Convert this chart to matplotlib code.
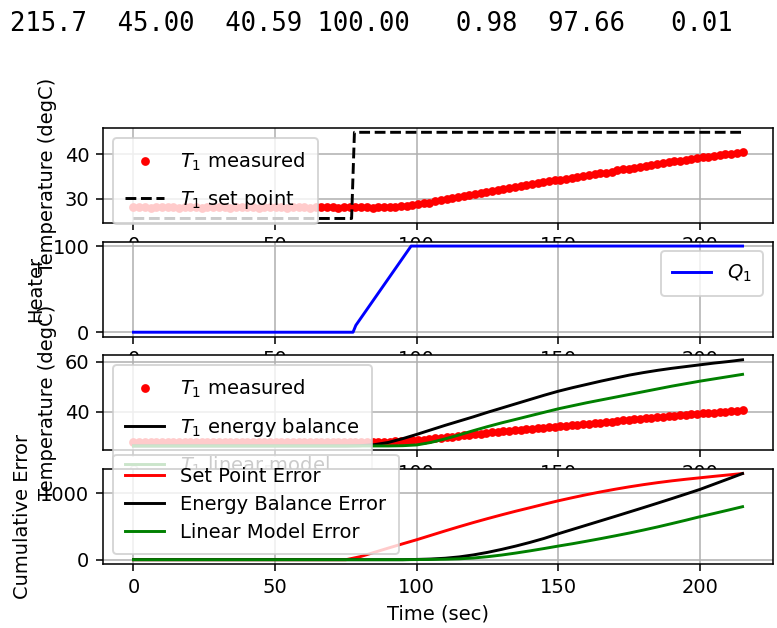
import numpy as np
import matplotlib.pyplot as plt

# printed status line above the figure
status = '215.7  45.00  40.59 100.00   0.98  97.66   0.01'

# measured temperature (every ~2 s)
T1_meas = [28.0, 28.1, 28.0, 27.9, 28.0, 28.1, 28.0, 28.0, 27.9, 28.0,
           28.1, 28.0, 27.9, 28.0, 28.0, 28.1, 28.0, 27.9, 28.0, 28.1,
           28.0, 28.0, 27.9, 28.0, 28.1, 28.0, 28.0, 27.9, 28.0, 28.1,
           28.0, 27.9, 28.0, 28.0, 28.1, 28.0, 27.9, 28.0, 28.0, 28.1,
           28.0, 28.0, 27.9, 28.0, 28.1,
           28.1, 28.2, 28.3, 28.4, 28.6, 28.7, 28.9, 29.1, 29.4, 29.6,
           29.8, 30.1, 30.3, 30.6, 30.8, 31.1, 31.3, 31.5, 31.8, 32.0,
           32.2, 32.4, 32.7, 32.9, 33.1, 33.3, 33.5, 33.7, 33.9, 34.1,
           34.3, 34.5, 34.7, 34.9, 35.1, 35.3, 35.5, 35.7, 35.9, 36.1,
           36.4, 36.6, 36.8, 37.0, 37.2, 37.4, 37.6, 37.8, 38.0, 38.2,
           38.4, 38.6, 38.8, 39.0, 39.2, 39.4, 39.5, 39.7, 39.9, 40.1,
           40.2, 40.4, 40.6]
tm = np.linspace(0, 215, len(T1_meas))

# set point and heater
t_sp = [0, 77, 78, 215]
T1_sp = [25.5, 25.5, 45.0, 45.0]
t_q = [0, 77.5, 78.5, 98, 215]
Q1 = [0, 0, 8, 100, 100]

# model predictions and cumulative errors (every 5 s)
t_mod = np.arange(0, 220, 5)
T1_eb = [26.4] * 16 + [26.5, 26.9, 27.8, 29.3, 31.0, 32.8, 34.6, 36.3, 38.0, 39.8,
                       41.5, 43.2, 44.9, 46.6, 48.2, 49.6, 50.9, 52.2, 53.4, 54.6,
                       55.6, 56.5, 57.3, 58.0, 58.7, 59.4, 60.0, 60.7]
T1_lm = [26.4] * 19 + [26.5, 26.8, 27.8, 29.2, 30.8, 32.5, 34.1, 35.6, 37.0, 38.4,
                       39.8, 41.2, 42.4, 43.6, 44.7, 45.8, 46.9, 48.0, 49.1, 50.2,
                       51.2, 52.2, 53.1, 54.0, 54.9]
err_sp = [0] * 16 + [45, 110, 175, 238, 300, 366, 432, 496, 558, 617,
                     674, 729, 781, 834, 885, 932, 977, 1019, 1058, 1094,
                     1127, 1157, 1184, 1208, 1230, 1252, 1273, 1294]
err_eb = [0] * 20 + [4, 10, 22, 42, 72, 110, 155, 205, 260, 320,
                     390, 455, 520, 585, 650, 716, 782, 849, 917, 986,
                     1056, 1135, 1214, 1294]
err_lm = [0] * 20 + [2, 4, 7, 13, 25, 45, 70, 100, 133, 168,
                     205, 240, 278, 317, 358, 400, 445, 492, 542, 593,
                     646, 695, 745, 796]

fig = plt.figure(figsize=(777 / 140, 628 / 140), dpi=140)
plt.subplots_adjust(left=103 / 777, right=773 / 777, top=1 - 128 / 628,
                    bottom=1 - 564 / 628, hspace=0.2)
fig.text(10 / 777, 1 - 31 / 628, status, family='DejaVu Sans Mono', fontsize=13.2)

plt.subplot(4, 1, 1)
plt.grid()
plt.plot(tm, T1_meas, 'r.', markersize=7, label=r'$T_1$ measured')
plt.plot(t_sp, T1_sp, 'k--', label=r'$T_1$ set point')
plt.ylabel('Temperature (degC)')
plt.legend(loc='upper left', labelspacing=0.8, borderpad=0.65)

plt.subplot(4, 1, 2)
plt.grid()
plt.plot(t_q, Q1, 'b-', label=r'$Q_1$')
plt.ylabel('Heater')
plt.legend(loc='upper right', borderpad=0.6)

plt.subplot(4, 1, 3)
plt.grid()
plt.plot(tm, T1_meas, 'r.', markersize=7, label=r'$T_1$ measured')
plt.plot(t_mod, T1_eb, 'k-', label=r'$T_1$ energy balance')
plt.plot(t_mod, T1_lm, 'g-', label=r'$T_1$ linear model')
plt.ylabel('Temperature (degC)')
plt.legend(loc='upper left', labelspacing=0.8, borderpad=0.65)

plt.subplot(4, 1, 4)
plt.grid()
plt.plot(t_mod, err_sp, 'r-', label='Set Point Error')
plt.plot(t_mod, err_eb, 'k-', label='Energy Balance Error')
plt.plot(t_mod, err_lm, 'g-', label='Linear Model Error')
plt.ylabel('Cumulative Error')
plt.xlabel('Time (sec)')
plt.legend(loc='lower left', labelspacing=0.45, borderpad=0.65)

plt.savefig('out.png', dpi=140)
